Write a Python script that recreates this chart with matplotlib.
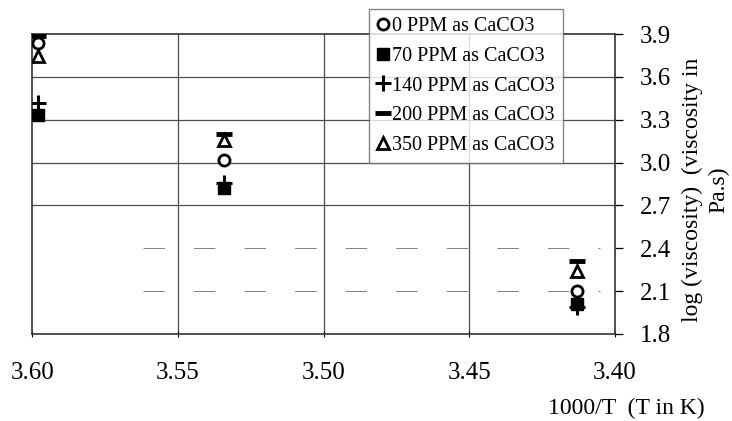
import numpy as np
import matplotlib
matplotlib.use("Agg")
import matplotlib.pyplot as plt

plt.rcParams['font.family'] = ['Liberation Serif', 'DejaVu Serif']

# 1000/T for T = 278, 283, 293 K
inv_T = [3.598, 3.534, 3.413]

ppm0 = [3.84, 3.02, 2.10]
ppm70 = [3.33, 2.82, 2.01]
ppm140 = [3.42, 2.86, 1.99]
ppm200 = [3.89, 3.20, 2.31]
ppm350 = [3.75, 3.16, 2.24]

labels = ['0 PPM as CaCO3', '70 PPM as CaCO3', '140 PPM as CaCO3',
          '200 PPM as CaCO3', '350 PPM as CaCO3']

y_ticks = [1.8, 2.1, 2.4, 2.7, 3.0, 3.3, 3.6, 3.9]
x_ticks = [3.60, 3.55, 3.50, 3.45, 3.40]

fig = plt.figure(figsize=(7.32, 4.21), dpi=100)
ax = fig.add_axes([0.044, 0.207, 0.796, 0.712])

# grid (the two lowest lines are faint/broken in the original scan)
for y in y_ticks[1:-1]:
    if y < 2.5:
        ax.hlines(y, 3.562, 3.405, color='0.5', lw=0.7, ls=(0, (22, 30)), zorder=1)
    else:
        ax.axhline(y, color='0.3', lw=0.9, zorder=1)
for x in x_ticks[1:-1]:
    ax.axvline(x, color='0.3', lw=0.9, zorder=1)

ax.plot(inv_T, ppm0, 'o', ms=8, mfc='white', mec='black', mew=2, ls='none', label=labels[0], zorder=3)
ax.plot(inv_T, ppm70, 's', ms=8, mfc='black', mec='black', ls='none', label=labels[1], zorder=3)
ax.plot(inv_T, ppm140, '+', ms=11, mec='black', mew=2.2, ls='none', label=labels[2], zorder=3)
ax.plot(inv_T, ppm200, '_', ms=11, mec='black', mew=3.5, ls='none', label=labels[3], zorder=3)
ax.plot(inv_T, ppm350, '^', ms=8, mfc='white', mec='black', mew=2, ls='none', label=labels[4], zorder=3)

ax.set_xlim(3.60, 3.40)
ax.set_ylim(1.8, 3.9)
ax.set_xticks(x_ticks)
ax.set_xticklabels(['%.2f' % v for v in x_ticks])
ax.set_yticks(y_ticks)
ax.set_yticklabels(['%.1f' % v for v in y_ticks])
ax.yaxis.tick_right()
ax.tick_params(axis='y', direction='out', length=6, width=0.9, labelsize=18, pad=12)
ax.tick_params(axis='x', direction='inout', length=5, width=0.8, labelsize=18, pad=18)
for s in ax.spines.values():
    s.set_linewidth(1.2)
    s.set_color('0.2')

fig.text(0.964, 0.55, 'log (viscosity)  (viscosity in\nPa.s)', fontsize=17,
         rotation=90, ha='center', va='center', multialignment='center',
         linespacing=1.3)
fig.text(0.855, 0.03, '1000/T  (T in K)', fontsize=17, ha='center', va='center')

leg = ax.legend(loc='upper left', bbox_to_anchor=(0.578, 1.083), frameon=True,
                fancybox=False, edgecolor='0.4', fontsize=14.5, handlelength=0.55,
                handletextpad=0.2, borderpad=0.4, labelspacing=0.52,
                borderaxespad=0)
leg.get_frame().set_linewidth(1.0)

fig.savefig('out.png', dpi=100)
